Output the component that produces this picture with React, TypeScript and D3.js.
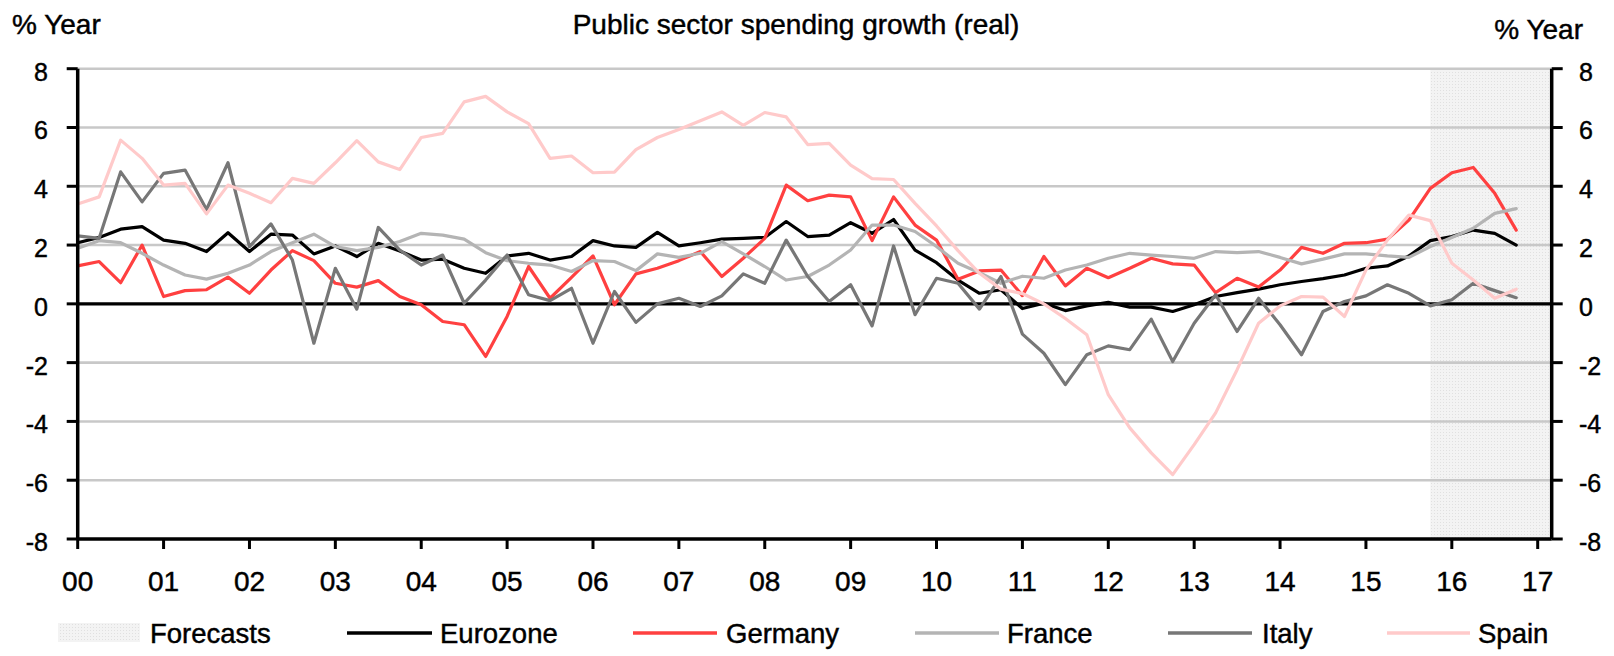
import React from 'react';
import * as d3 from 'd3';

const W = 1614;
const H = 656;

// Quarterly data, 2000Q1 .. 2016Q4
const startYear = 2000;
const eurozone = [2.08, 2.26, 2.54, 2.63, 2.17, 2.06, 1.78, 2.42, 1.78, 2.37, 2.34, 1.70, 1.97, 1.61, 2.06, 1.80, 1.49, 1.52, 1.21, 1.04, 1.63, 1.72, 1.49, 1.61, 2.15, 1.97, 1.92, 2.43, 1.97, 2.08, 2.20, 2.23, 2.26, 2.80, 2.29, 2.34, 2.76, 2.40, 2.87, 1.83, 1.40, 0.81, 0.36, 0.48, -0.16, 0.02, -0.23, -0.07, 0.05, -0.11, -0.11, -0.26, -0.03, 0.25, 0.38, 0.50, 0.65, 0.76, 0.86, 0.98, 1.21, 1.29, 1.63, 2.15, 2.29, 2.51, 2.40, 2.00];
const germany = [1.29, 1.44, 0.72, 2.00, 0.25, 0.45, 0.48, 0.91, 0.36, 1.15, 1.81, 1.47, 0.70, 0.57, 0.79, 0.25, -0.03, -0.60, -0.71, -1.79, -0.43, 1.27, 0.19, 0.90, 1.63, -0.03, 1.02, 1.21, 1.47, 1.78, 0.93, 1.55, 2.23, 4.04, 3.51, 3.70, 3.64, 2.15, 3.64, 2.68, 2.17, 0.84, 1.12, 1.15, 0.28, 1.61, 0.61, 1.21, 0.89, 1.21, 1.55, 1.36, 1.32, 0.38, 0.87, 0.57, 1.15, 1.92, 1.72, 2.06, 2.08, 2.20, 2.85, 3.93, 4.46, 4.64, 3.76, 2.51];
const france = [1.89, 2.15, 2.08, 1.72, 1.32, 0.98, 0.84, 1.04, 1.32, 1.78, 2.08, 2.37, 1.95, 1.81, 1.92, 2.12, 2.40, 2.34, 2.20, 1.74, 1.47, 1.38, 1.32, 1.10, 1.47, 1.44, 1.13, 1.70, 1.58, 1.72, 2.12, 1.70, 1.27, 0.81, 0.93, 1.32, 1.83, 2.68, 2.68, 2.46, 1.95, 1.38, 1.06, 0.70, 0.94, 0.87, 1.15, 1.32, 1.55, 1.72, 1.66, 1.61, 1.55, 1.78, 1.74, 1.78, 1.58, 1.36, 1.52, 1.70, 1.70, 1.63, 1.58, 1.95, 2.26, 2.57, 3.08, 3.24];
const italy = [2.31, 2.23, 4.49, 3.47, 4.44, 4.55, 3.21, 4.80, 1.95, 2.72, 1.49, -1.34, 1.21, -0.18, 2.60, 1.83, 1.32, 1.66, 0.02, 0.81, 1.66, 0.31, 0.11, 0.53, -1.34, 0.42, -0.63, 0.00, 0.19, -0.09, 0.27, 1.02, 0.70, 2.17, 0.93, 0.08, 0.65, -0.75, 1.97, -0.37, 0.87, 0.70, -0.18, 0.93, -1.03, -1.68, -2.75, -1.73, -1.43, -1.56, -0.52, -1.96, -0.66, 0.31, -0.94, 0.19, -0.71, -1.73, -0.26, 0.08, 0.27, 0.65, 0.36, -0.07, 0.14, 0.70, 0.45, 0.21];
const spain = [3.40, 3.64, 5.57, 4.95, 4.04, 4.10, 3.06, 4.04, 3.76, 3.44, 4.27, 4.10, 4.80, 5.55, 4.83, 4.57, 5.66, 5.80, 6.87, 7.06, 6.53, 6.13, 4.95, 5.03, 4.46, 4.48, 5.25, 5.66, 5.93, 6.23, 6.53, 6.07, 6.51, 6.36, 5.42, 5.46, 4.72, 4.26, 4.23, 3.42, 2.65, 1.81, 1.04, 0.50, 0.35, 0.00, -0.50, -1.05, -3.09, -4.22, -5.07, -5.81, -4.79, -3.71, -2.24, -0.66, -0.07, 0.25, 0.23, -0.43, 1.15, 2.17, 3.02, 2.83, 1.38, 0.81, 0.19, 0.50];

const xTickLabels = ['00', '01', '02', '03', '04', '05', '06', '07', '08', '09', '10', '11', '12', '13', '14', '15', '16', '17'];
const yTicks = [-8, -6, -4, -2, 0, 2, 4, 6, 8];
const forecastStart = 2015.75;
const axisEnd = 2017.163;

const seriesNames = ['Eurozone', 'Germany', 'France', 'Italy', 'Spain'];
const seriesData = [eurozone, germany, france, italy, spain];
const seriesColors = ['#000000', '#ff4040', '#b4b4b4', '#777777', '#ffcaca'];

const FONT = "'Liberation Sans', Arial, Helvetica, sans-serif";
const TXT = { fill: '#000', stroke: '#000', strokeWidth: 0.45 } as const;

export default function App() {
  const x = d3.scaleLinear().domain([2000, 2017]).range([77.7, 1537.7]);
  const y = d3.scaleLinear().domain([-8, 8]).range([539, 68.7]);
  const xLeft = x(2000);
  const xRight = x(axisEnd);

  const line = d3
    .line<number>()
    .x((_, i) => x(startYear + i / 4))
    .y((d) => y(d));

  const legendItems = [
    { name: 'Forecasts', type: 'area', x0: 58, x1: 140, tx: 150 },
    { name: 'Eurozone', type: 'line', color: seriesColors[0], x0: 347, x1: 432, tx: 440 },
    { name: 'Germany', type: 'line', color: seriesColors[1], x0: 633, x1: 717, tx: 726 },
    { name: 'France', type: 'line', color: seriesColors[2], x0: 915, x1: 999, tx: 1007 },
    { name: 'Italy', type: 'line', color: seriesColors[3], x0: 1168, x1: 1252, tx: 1262 },
    { name: 'Spain', type: 'line', color: seriesColors[4], x0: 1387, x1: 1470, tx: 1478 },
  ];

  return (
    <svg
      width={W}
      height={H}
      style={{ position: 'absolute', left: 0, top: 0, display: 'block', background: '#fff' }}
      fontFamily={FONT}
    >
      <defs>
        <pattern id="fc" width="3" height="3" patternUnits="userSpaceOnUse">
          <rect width="3" height="3" fill="#f3f3f3" />
          <rect width="1" height="1" fill="#e0e0e0" />
        </pattern>
      </defs>
      <rect x={0} y={0} width={W} height={H} fill="#fff" />

      {/* forecast shading */}
      <rect
        x={x(forecastStart)}
        y={y(8)}
        width={xRight - x(forecastStart)}
        height={y(-8) - y(8)}
        fill="url(#fc)"
      />

      {/* gridlines */}
      {yTicks
        .filter((t) => t !== 0 && t !== -8)
        .map((t) => (
          <line key={'g' + t} x1={xLeft} x2={xRight} y1={y(t)} y2={y(t)} stroke="#c8c8c8" strokeWidth={2.6} />
        ))}

      {/* zero line */}
      <line x1={xLeft} x2={xRight} y1={y(0)} y2={y(0)} stroke="#000" strokeWidth={3.2} />

      {/* series */}
      {seriesData.map((d, k) => (
        <path
          key={seriesNames[k]}
          d={line(d) || ''}
          fill="none"
          stroke={seriesColors[k]}
          strokeWidth={3.2}
          strokeLinejoin="round"
          strokeLinecap="round"
        />
      ))}

      {/* axes */}
      <line x1={xLeft} x2={xLeft} y1={y(8)} y2={y(-8)} stroke="#000" strokeWidth={3.5} />
      <line x1={xRight} x2={xRight} y1={y(8)} y2={y(-8)} stroke="#000" strokeWidth={3.5} />
      <line x1={xLeft} x2={xRight} y1={y(-8)} y2={y(-8)} stroke="#000" strokeWidth={3.5} />

      {yTicks.map((t) => (
        <g key={'yt' + t}>
          <line x1={xLeft - 11} x2={xLeft} y1={y(t)} y2={y(t)} stroke="#000" strokeWidth={3} />
          <line x1={xRight} x2={xRight + 11} y1={y(t)} y2={y(t)} stroke="#000" strokeWidth={3} />
          <text x={48} y={y(t) + 12} fontSize={25} textAnchor="end" {...TXT}>
            {String(t)}
          </text>
          <text x={1579} y={y(t) + 12} fontSize={25} textAnchor="start" {...TXT}>
            {String(t)}
          </text>
        </g>
      ))}

      {xTickLabels.map((lab, i) => (
        <g key={'xt' + lab}>
          <line x1={x(2000 + i)} x2={x(2000 + i)} y1={y(-8)} y2={y(-8) + 10} stroke="#000" strokeWidth={3} />
          <text x={x(2000 + i)} y={591} fontSize={28} textAnchor="middle" {...TXT}>
            {lab}
          </text>
        </g>
      ))}

      {/* titles */}
      <text x={796} y={34} fontSize={28} textAnchor="middle" {...TXT}>
        Public sector spending growth (real)
      </text>
      <text x={12} y={34} fontSize={28} textAnchor="start" {...TXT}>
        % Year
      </text>
      <text x={1583} y={39} fontSize={28} textAnchor="end" {...TXT}>
        % Year
      </text>

      {/* legend */}
      {legendItems.map((it) => (
        <g key={'lg' + it.name}>
          {it.type === 'area' ? (
            <rect x={it.x0} y={623} width={it.x1 - it.x0} height={19} fill="url(#fc)" />
          ) : (
            <line x1={it.x0} x2={it.x1} y1={633} y2={633} stroke={it.color} strokeWidth={3.5} />
          )}
          <text x={it.tx} y={643} fontSize={27.5} {...TXT}>
            {it.name}
          </text>
        </g>
      ))}
    </svg>
  );
}
